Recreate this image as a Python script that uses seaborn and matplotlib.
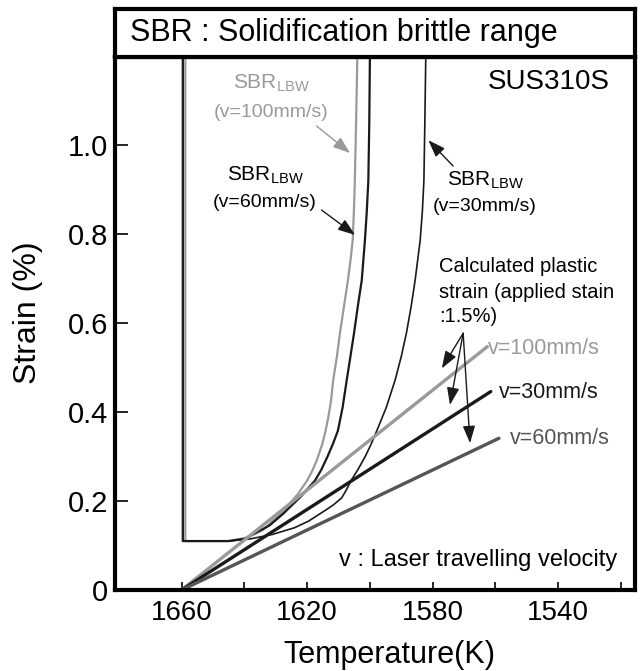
import matplotlib
matplotlib.use("Agg")
import matplotlib.pyplot as plt
import pandas as pd
import seaborn as sns
from matplotlib.ticker import FixedLocator, NullFormatter

# SBR_LBW curves: temperature (K) vs strain (%)
sbr100_temp = [1658.8, 1658.8, 1645, 1639, 1634, 1628, 1623, 1620, 1618.5, 1617,
               1615.3, 1614.2, 1613.2, 1612.4, 1611.7, 1610.5, 1609.5, 1608.2, 1607,
               1606.2, 1605.5, 1605.1, 1604.8, 1604.4, 1604]
sbr100_strain = [1.2, 0.11, 0.11, 0.118, 0.135, 0.175, 0.215, 0.246, 0.266, 0.29,
                 0.325, 0.355, 0.39, 0.425, 0.471, 0.525, 0.58, 0.64, 0.696,
                 0.74, 0.785, 0.85, 0.92, 1.05, 1.2]

sbr60_temp = [1659.6, 1659.6, 1645, 1640, 1636, 1632, 1627.7, 1622, 1617.5, 1615.5,
              1613.5, 1611.8, 1610.2, 1608.7, 1607.4, 1606.2, 1605, 1603.8, 1602.6,
              1601.6, 1601, 1600.5, 1600.2, 1600]
sbr60_strain = [1.2, 0.11, 0.11, 0.115, 0.13, 0.145, 0.171, 0.21, 0.246, 0.27,
                0.3, 0.328, 0.358, 0.41, 0.471, 0.525, 0.58, 0.64, 0.696,
                0.785, 0.85, 0.92, 1.05, 1.2]

sbr30_temp = [1659.6, 1659.6, 1645, 1638, 1631, 1624, 1619.5, 1614, 1611.5, 1609,
              1607.5, 1606, 1603.7, 1601.5, 1599.6, 1597.8, 1594.8, 1592, 1590,
              1588.3, 1586.8, 1585.6, 1584, 1583.3, 1582.8, 1582.5, 1582.2]
sbr30_strain = [1.2, 0.11, 0.11, 0.115, 0.125, 0.14, 0.155, 0.18, 0.192, 0.207,
                0.225, 0.246, 0.272, 0.3, 0.328, 0.358, 0.41, 0.471, 0.525,
                0.58, 0.64, 0.696, 0.785, 0.85, 0.92, 1.05, 1.2]

# calculated plastic strain (applied strain 1.5%)
plastic100_temp = [1660, 1562.6]
plastic100_strain = [0.0, 0.547]
plastic30_temp = [1660, 1561.5]
plastic30_strain = [0.0, 0.446]
plastic60_temp = [1660, 1558.9]
plastic60_strain = [0.0, 0.341]

x_major = [1660, 1620, 1580, 1540]
x_minor = [1640, 1600, 1560, 1520]
y_ticks = [0, 0.2, 0.4, 0.6, 0.8, 1.0]
y_labels = ["0", "0.2", "0.4", "0.6", "0.8", "1.0"]

GREY = "#9a9a9a"
BLACK = "#1a1a1a"
DARK = "#555555"

sns.set_theme(style="white")
plt.rcParams["font.family"] = ["Liberation Sans", "DejaVu Sans"]
plt.rcParams["mathtext.fontset"] = "custom"
plt.rcParams["mathtext.rm"] = "Liberation Sans"
plt.rcParams["text.color"] = "black"

fig = plt.figure(figsize=(6.41, 6.71), dpi=100)
ax = fig.add_axes([0.1794, 0.1207, 0.812, 0.7944])
head = fig.add_axes([0.1794, 0.9151, 0.812, 0.0715])


def draw(temp, strain, color, lw):
    df = pd.DataFrame({"T": temp, "s": strain})
    sns.lineplot(data=df, x="T", y="s", sort=False, estimator=None,
                 color=color, linewidth=lw, ax=ax, legend=False)


draw(sbr100_temp, sbr100_strain, GREY, 1.6)
draw(sbr60_temp, sbr60_strain, BLACK, 1.6)
draw(sbr30_temp, sbr30_strain, BLACK, 1.2)
draw(plastic100_temp, plastic100_strain, GREY, 2.4)
draw(plastic30_temp, plastic30_strain, BLACK, 2.4)
draw(plastic60_temp, plastic60_strain, DARK, 2.4)

ax.set_xlim(1681.2, 1515.4)
ax.set_ylim(0, 1.198)
ax.xaxis.set_major_locator(FixedLocator(x_major))
ax.xaxis.set_minor_locator(FixedLocator(x_minor))
ax.xaxis.set_minor_formatter(NullFormatter())
ax.set_xticklabels([str(t) for t in x_major])
ax.set_yticks(y_ticks)
ax.set_yticklabels(y_labels)
ax.tick_params(axis="x", which="both", direction="in", length=6, width=1.2,
               labelsize=20, pad=7, bottom=True, colors="black")
ax.tick_params(axis="y", direction="in", length=9, width=1.2,
               labelsize=21, pad=5, left=True, colors="black")

ax.set_xlabel("Temperature(K)", fontsize=22, color="black")
ax.xaxis.label.set_verticalalignment("center")
ax.xaxis.set_label_coords(0.528, -0.122)
ax.set_ylabel("Strain (%)", fontsize=23, color="black")
ax.yaxis.label.set_verticalalignment("center")
ax.yaxis.set_label_coords(-0.167, 0.52)

for a in (ax, head):
    for sp in a.spines.values():
        sp.set_linewidth(3)
        sp.set_color("black")

head.set_xticks([])
head.set_yticks([])
head.text(0.029, 0.5, "SBR : Solidification brittle range", transform=head.transAxes,
          ha="left", va="center", fontsize=22)

ax.text(1523.5, 1.142, "SUS310S", ha="right", va="center", fontsize=20)

# SBR labels with arrows
sub = r"SBR$_{\rm LBW}$"
ax.text(1631.5, 1.139, sub, ha="center", va="center", fontsize=15, color=GREY)
ax.text(1631.5, 1.074, "(v=100mm/s)", ha="center", va="center", fontsize=14, color=GREY)
ax.text(1633.4, 0.933, sub, ha="center", va="center", fontsize=15)
ax.text(1633.4, 0.870, "(v=60mm/s)", ha="center", va="center", fontsize=14)
ax.text(1563.3, 0.921, sub, ha="center", va="center", fontsize=15)
ax.text(1563.3, 0.861, "(v=30mm/s)", ha="center", va="center", fontsize=14)

arrow = "-|>,head_length=0.7,head_width=0.25"
ax.annotate("", xy=(1606.3, 0.982), xytext=(1617.0, 1.043),
            arrowprops=dict(arrowstyle=arrow, color=GREY, lw=1, mutation_scale=15,
                            shrinkA=0, shrinkB=0))
ax.annotate("", xy=(1604.7, 0.798), xytext=(1615.4, 0.854),
            arrowprops=dict(arrowstyle=arrow, color=BLACK, lw=1, mutation_scale=15,
                            shrinkA=0, shrinkB=0))
ax.annotate("", xy=(1581.4, 1.011), xytext=(1573.5, 0.953),
            arrowprops=dict(arrowstyle=arrow, color=BLACK, lw=1, mutation_scale=15,
                            shrinkA=0, shrinkB=0))

# calculated plastic strain note
for s, line in zip([0.7265, 0.668, 0.6142],
                   ["Calculated plastic", "strain (applied stain", ":1.5%)"]):
    ax.text(1578.0, s, line, ha="left", va="center", fontsize=14.5)

for tx, ty in [(1577.1, 0.498), (1574.5, 0.416), (1568.1, 0.330)]:
    ax.annotate("", xy=(tx, ty), xytext=(1570.3, 0.577),
                arrowprops=dict(arrowstyle=arrow, color=BLACK, lw=1, mutation_scale=15,
                                shrinkA=0, shrinkB=0))

ax.text(1562.3, 0.543, "v=100mm/s", ha="left", va="center", fontsize=15.5, color=GREY)
ax.text(1558.8, 0.443, "v=30mm/s", ha="left", va="center", fontsize=15.5, color=BLACK)
ax.text(1555.4, 0.341, "v=60mm/s", ha="left", va="center", fontsize=15.5, color=DARK)

ax.text(1521.3, 0.067, "v : Laser travelling velocity", ha="right", va="center", fontsize=17)

fig.savefig("out.png", dpi=100)
